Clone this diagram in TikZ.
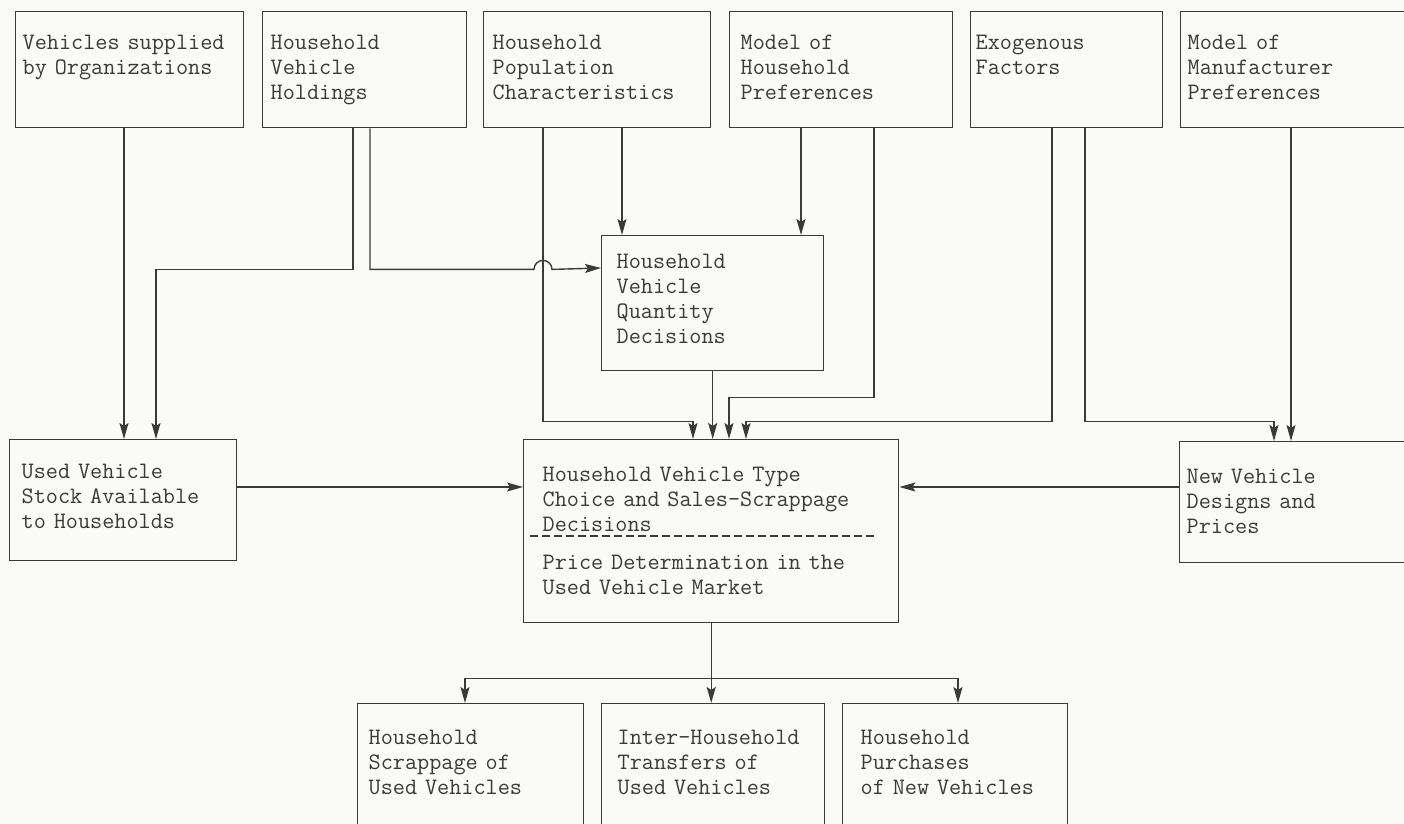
\documentclass[tikz,border=0pt]{standalone}
\usepackage{fontspec}
\usetikzlibrary{calc,arrows.meta}

\definecolor{ink}{RGB}{58,58,58}
\definecolor{paper}{RGB}{250,250,248}

\tikzset{
  box/.style={draw=ink, text=ink, line width=0.7pt, anchor=north west, align=left,
    inner ysep=0pt, font=\ttfamily\fontsize{11.77}{12.5}\selectfont},
  toprow/.style={box, text height=19pt, text depth=39pt},
  lowrow/.style={box, text height=20.5pt, text depth=42pt},
  arr/.style={draw=ink, line width=0.7pt, -{Stealth[length=8pt,width=4.5pt,inset=1.5pt]}},
  divider/.style={draw=ink, line width=0.7pt, dash pattern=on 4pt off 2pt}
}

\begin{document}
\begin{tikzpicture}[x=0.5pt, y=-0.5pt]
        % Page
        \fill[paper] (0,0) rectangle (1404,824);
        \useasboundingbox (0,0) rectangle (1404,824);

        % Inputs along the top
        \node[toprow, inner xsep=3.5pt, text width=107pt] (vso) at (15,11) {Vehicles supplied\\by Organizations};
        \node[toprow, inner xsep=4pt, text width=94pt] (hvh) at (262,11) {Household\\Vehicle\\Holdings};
        \node[toprow, inner xsep=4.5pt, text width=104.5pt] (hpc) at (483,11) {Household\\Population\\Characteristics};
        \node[toprow, inner xsep=5.5pt, text width=100.5pt] (mhp) at (729,11) {Model of\\Household\\Preferences};
        \node[toprow, inner xsep=2.5pt, text width=91pt] (exo) at (970,11) {Exogenous\\Factors};
        \node[toprow, inner xsep=3.5pt, text width=113pt] (mmp) at (1180,11) {Model of\\Manufacturer\\Preferences};

        % Middle row
        \node[box, inner xsep=7.5pt, text width=96pt, text height=16.5pt, text depth=51pt] (hvq) at (601,235) {Household\\Vehicle\\Quantity\\Decisions};
        \node[box, inner xsep=6pt, text width=101.5pt, text height=19.5pt, text depth=41pt] (uvs) at (9,439) {Used Vehicle\\Stock Available\\to Households};
        \node[box, inner xsep=9.5pt, text width=168.5pt, text height=21pt, text depth=70.5pt] (hvt) at (523,439) {Household Vehicle Type\\Choice and Sales-Scrappage\\Decisions\\[6.5pt]Price Determination in the\\Used Vehicle Market};
        \node[box, inner xsep=3.5pt, text width=113pt, text height=21pt, text depth=39.5pt] (nvd) at (1179,441) {New Vehicle\\Designs and\\Prices};
        \draw[divider] ($(hvt.north west)+(7,97)$) -- ($(hvt.north west)+(352,97)$);

        % Outcomes along the bottom
        \node[lowrow, inner xsep=5.5pt, text width=102pt] (scr) at (357,703) {Household\\Scrappage of\\Used Vehicles};
        \node[lowrow, inner xsep=8pt, text width=95.5pt] (tra) at (601,703) {Inter-Household\\Transfers of\\Used Vehicles};
        \node[lowrow, inner xsep=9pt, text width=94.5pt] (pur) at (842,703) {Household\\Purchases\\of New Vehicles};

        % Into the used vehicle stock
        \draw[arr] ($(vso.south west)+(109,0)$) -- ($(uvs.north west)+(115,0)$);
        \draw[arr] ($(hvh.south west)+(91,0)$) -- ++(0,141) -| ($(uvs.north west)+(147,0)$);

        % Into the quantity decisions
        \draw[arr] ($(hvh.south west)+(108,0)$) -- ++(0,141) -- ($(hpc.south west)+(51,141)$)
            arc[start angle=180, end angle=0, radius=4.5pt] -- ($(hvq.north west)+(0,33)$);
        \draw[arr] ($(hpc.south west)+(139,0)$) -- ($(hvq.north west)+(21,0)$);
        \draw[arr] ($(mhp.south west)+(72,0)$) -- ($(hvq.north west)+(200,0)$);

        % Into the type choice and price box
        \draw[arr] ($(hpc.south west)+(60,0)$) -- ++(0,293) -| ($(hvt.north west)+(170,0)$);
        \draw[arr] (hvq.south) -- (hvq.south |- hvt.north);
        \draw[arr] ($(mhp.south west)+(145,0)$) -- ++(0,269) -| ($(hvt.north west)+(206,0)$);
        \draw[arr] ($(exo.south west)+(82,0)$) -- ++(0,293) -| ($(hvt.north west)+(223,0)$);
        \draw[arr] ($(uvs.north east)+(0,48)$) -- ($(hvt.north west)+(0,48)$);
        \draw[arr] ($(nvd.north west)+(0,46)$) -- ($(hvt.north east)+(0,48)$);

        % Into the new vehicle designs
        \draw[arr] ($(exo.south west)+(115,0)$) -- ++(0,293) -| ($(nvd.north west)+(95,0)$);
        \draw[arr] ($(mmp.south west)+(111,0)$) coordinate (mmpout) -- (mmpout |- nvd.north);

        % Out to the three outcomes
        \coordinate (split) at ($(hvt.south)+(0,55)$);
        \draw[arr] (hvt.south) -- (hvt.south |- tra.north);
        \draw[arr] (split) -| ($(scr.north west)+(108,0)$);
        \draw[arr] (split) -| ($(pur.north west)+(116,0)$);
\end{tikzpicture}
\end{document}
